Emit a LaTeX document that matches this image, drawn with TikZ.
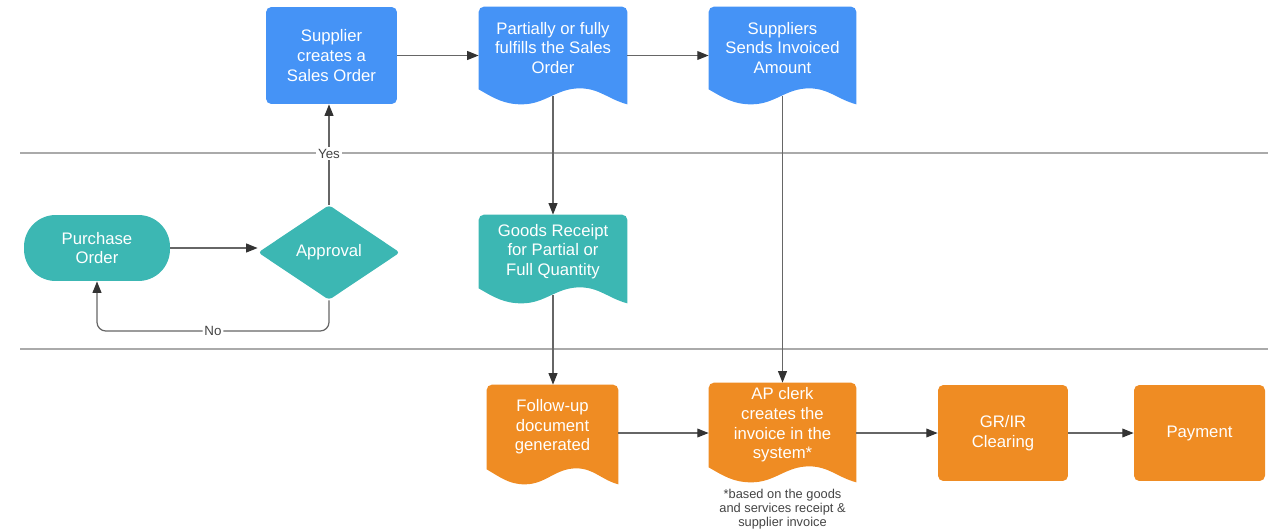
\documentclass[tikz,border=0pt]{standalone}
\usepackage{fontspec}
\setmainfont{Liberation Sans}
\usetikzlibrary{arrows.meta, calc, shapes.geometric, backgrounds}
\definecolor{lucidblue}{HTML}{4593F6}
\definecolor{lucidteal}{HTML}{3CB7B3}
\definecolor{lucidorange}{HTML}{EF8C23}
\definecolor{linegray}{HTML}{666666}
\definecolor{arrowgray}{HTML}{333333}
\definecolor{lanegray}{HTML}{AAAAAA}
\definecolor{labelgray}{HTML}{444444}
% wavy document shape behind a node
\newcommand{\docfill}[2]{%
  \fill[#2] (#1.south west) -- ([yshift=-3pt]#1.north west) arc[start angle=180, end angle=90, radius=3pt]
    -- ([xshift=-3pt]#1.north east) arc[start angle=90, end angle=0, radius=3pt]
    -- ([yshift=-0.3cm]#1.south east)
    to[out=165,in=0] ($(#1.south west)!0.68!(#1.south east)+(0cm,0.02cm)$)
    to[out=180,in=0] ($(#1.south west)!0.29!(#1.south east)+(0cm,-0.3cm)$)
    to[out=180,in=-30] (#1.south west) -- cycle;}

\begin{document}
\begin{tikzpicture}[x=0.02cm, y=-0.02cm,
	box/.style={rectangle, rounded corners=3pt, text=white, align=center, inner sep=0pt, font=\fontsize{9.5}{11.2}\selectfont},
	docbox/.style={rectangle, text=white, align=center, inner sep=0pt, font=\fontsize{9.5}{11.2}\selectfont},
	pill/.style={box, rounded corners=18pt},
	decision/.style={diamond, rounded corners=2pt, fill=lucidteal, text=white, inner sep=0pt, minimum width=2.84cm, minimum height=1.9cm, font=\fontsize{9.5}{11.2}\selectfont},
	conn/.style={linegray, line width=0.7pt, -{Triangle[length=6.5pt,width=5pt,color=arrowgray]}},
	lbl/.style={fill=white, text=labelgray, inner sep=1pt, font=\fontsize{7.6}{9}\selectfont},
	note/.style={text=labelgray, align=center, inner sep=0pt, font=\fontsize{7.3}{7.8}\selectfont},
	lane/.style={lanegray, line width=1.1pt}]
		\useasboundingbox (0,0) rectangle (1268,531);
		\coordinate (nobase) at (0,331); %No path level
		\draw[lane] (20,153) -- (1268,153); %lane 1
		\draw[lane] (20,349) -- (1268,349); %lane 2
		% supplier lane
		\node[box, fill=lucidblue, minimum width=2.62cm, minimum height=1.94cm] (supplier) at (331.5,55.5) {Supplier\\creates a\\Sales Order};
		\node[docbox, minimum width=2.96cm, minimum height=1.64cm] (partial) at (553,48) {Partially or fully\\fulfills the Sales\\Order};
		\node[docbox, minimum width=2.94cm, minimum height=1.64cm] (sends) at (782.5,48) {Suppliers\\Sends Invoiced\\Amount};
		% buyer lane
		\node[pill, fill=lucidteal, minimum width=2.92cm, minimum height=1.32cm] (po) at (97,248) {Purchase\\Order};
		\node[decision] (approval) at (329,252.5) {Approval};
		\node[docbox, minimum width=2.96cm, minimum height=1.46cm] (goods) at (553,251.5) {Goods Receipt\\for Partial or\\Full Quantity};
		% accounts lane
		\node[docbox, minimum width=2.62cm, minimum height=1.68cm] (follow) at (552.5,427) {Follow-up\\document\\generated};
		\node[docbox, minimum width=2.94cm, minimum height=1.68cm] (ap) at (782.5,425) {AP clerk\\creates the\\invoice in the\\system*};
		\node[box, fill=lucidorange, minimum width=2.6cm, minimum height=1.92cm] (grir) at (1003,433) {GR/IR\\Clearing};
		\node[box, fill=lucidorange, minimum width=2.62cm, minimum height=1.92cm] (payment) at (1199.5,433) {Payment};
		\node[note, anchor=north] (apnote) at (782.5,489) {*based on the goods\\and services receipt \&\\supplier invoice};
		\begin{scope}[on background layer]
			\docfill{partial}{lucidblue}
			\docfill{sends}{lucidblue}
			\docfill{goods}{lucidteal}
			\docfill{follow}{lucidorange}
			\docfill{ap}{lucidorange}
		\end{scope}
		\draw[conn] (supplier.east) -- (supplier.east -| partial.west);
		\draw[conn] (partial.east |- supplier.east) -- (sends.west |- supplier.east);
		\draw[conn] ([yshift=-0.14cm]partial.south) -- (goods.north);
		\draw[conn] ([yshift=-0.14cm]sends.south) -- (ap.north);
		\draw[conn] ([yshift=-0.14cm]goods.south) -- (goods.south |- follow.north);
		\draw[conn] (po.east) -- (po.east -| approval.west);
		\draw[conn] (approval.north) -- node[lbl, pos=0.51]{Yes} (approval.north |- supplier.south);
		\draw[conn, rounded corners=5pt] (approval.south) |- node[lbl, pos=0.75]{No} (po.south |- nobase) -- (po.south);
		\draw[conn] (follow.east |- grir.west) -- (ap.west |- grir.west);
		\draw[conn] (ap.east |- grir.west) -- (grir.west);
		\draw[conn] (grir.east) -- (payment.west);
	\end{tikzpicture}
\end{document}
